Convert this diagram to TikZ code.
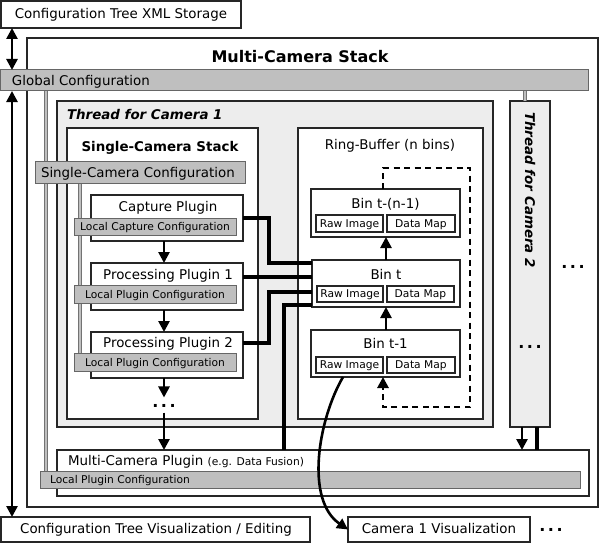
\documentclass[tikz,border=0pt]{standalone}
\usepackage{fontspec}
\setmainfont{DejaVu Sans}
\usetikzlibrary{arrows.meta,calc}
\pgfdeclarelayer{back}
\pgfdeclarelayer{bars}
\pgfsetlayers{back,bars,main}
\newcommand\fsmain{\fontsize{13.4}{16}\selectfont}
\newcommand\fssmall{\fontsize{10.7}{13}\selectfont}
\newcommand\fstitle{\fontsize{16}{19}\selectfont\bfseries}
\newcommand\bx[6][box]{\node[#1,anchor=north west,minimum width=#5pt,minimum height=#6pt] (#2) at (#3,#4) {};}
\begin{document}
\begin{tikzpicture}[x=1pt,y=-1pt,
  box/.style={draw=black!85,line width=1.2pt,fill=white,inner sep=0pt,outer sep=0pt},
  ibox/.style={box,line width=1.1pt},
  thr/.style={box,fill=black!7},
  cfg/.style={draw=black!60,line width=1pt,fill=gray!50,inner sep=0pt,outer sep=0pt},
  binbox/.style={box,line width=2.8pt},
  txt/.style={inner sep=0pt,outer sep=0pt,font=\fsmain},
  stxt/.style={txt,font=\fssmall},
  dots/.style={inner sep=0pt,outer sep=0pt,font=\fontsize{16}{19}\selectfont\bfseries},
  conn/.style={line width=3.8pt,black},
  arr/.style={line width=2.6pt,black,-{Triangle[length=11pt,width=11pt]}},
  dbl/.style={line width=2.6pt,black,{Triangle[length=11pt,width=11pt]}-{Triangle[length=11pt,width=11pt]}},
  gbar/.style={draw=black!55,line width=0.8pt,double=gray!50,double distance=1.6pt},
  dashloop/.style={line width=2.8pt,black,dash pattern=on 6pt off 4.5pt,-{Triangle[length=11pt,width=11pt]}}
]
\useasboundingbox (0,0) rectangle (600,543);

\begin{pgfonlayer}{back}
\bx{xml}{1}{1}{240}{27}
\bx{stack}{27}{38}{571}{469}
\bx[cfg]{glob}{0}{70}{588}{21}
\bx[thr]{th1}{57}{101}{436}{326}
\bx[thr]{th2}{510}{101}{40}{326}
\bx{single}{67}{128}{191}{291}
\bx{ring}{298}{128}{185}{291}
\end{pgfonlayer}

% titles
\node[txt,anchor=base] (xmlt) at (121,19) {Configuration Tree XML Storage};
\node[txt,anchor=base,font=\fstitle] (stackt) at (300,63) {Multi-Camera Stack};
\node[txt,anchor=base west] (globt) at (12,85) {Global Configuration};
\node[txt,anchor=base west,font=\fsmain\bfseries\itshape] (th1t) at (67,119) {Thread for Camera 1};
\node[txt,rotate=-90,font=\fsmain\bfseries\itshape] (th2t) at (530,190) {Thread for Camera 2};
\node[txt,anchor=base,font=\fsmain\bfseries] (singlet) at (160,151) {Single-Camera Stack};

% single camera stack
\bx[cfg]{scfg}{35}{161}{210}{22}
\node[txt,anchor=base west] (scfgt) at (41,177) {Single-Camera Configuration};
\bx{cap}{91}{195}{152}{46}
\node[txt,anchor=base] (capt) at (168,211) {Capture Plugin};
\bx[cfg]{lcc}{74}{218}{162}{17}
\node[stxt,anchor=base] (lcct) at (155,230) {Local Capture Configuration};
\bx{p1}{91}{263}{152}{47}
\node[txt,anchor=base] (p1t) at (168,279) {Processing Plugin 1};
\bx[cfg]{lpc1}{74}{285}{162}{18}
\node[stxt,anchor=base] (lpc1t) at (155,298) {Local Plugin Configuration};
\bx{p2}{91}{332}{152}{46}
\node[txt,anchor=base] (p2t) at (168,347) {Processing Plugin 2};
\bx[cfg]{lpc2}{74}{353}{162}{18}
\node[stxt,anchor=base] (lpc2t) at (155,366) {Local Plugin Configuration};
\node[dots] (dd1) at (164,406) {.\kern2.5pt.\kern2.5pt.};

% ring buffer
\node[txt,anchor=base] (ringt) at (390,149) {Ring-Buffer (n bins)};
\bx{binA}{311}{189}{149}{48}
\node[txt,anchor=base] (binAt) at (385.5,208) {Bin t-(n-1)};
\bx[ibox]{rawA}{316}{215}{67}{17}
\node[stxt,anchor=base] (rawAt) at (349.5,227) {Raw Image};
\bx[ibox]{mapA}{387}{215}{68}{17}
\node[stxt,anchor=base] (mapAt) at (421,227) {Data Map};
\bx[binbox]{binT}{312}{260}{148}{47}
\node[txt,anchor=base] (binTt) at (386,279) {Bin t};
\bx[ibox]{rawT}{317}{286}{66}{16}
\node[stxt,anchor=base] (rawTt) at (350,297) {Raw Image};
\bx[ibox]{mapT}{387}{286}{67}{16}
\node[stxt,anchor=base] (mapTt) at (420.5,297) {Data Map};
\bx{binB}{311}{330}{149}{47}
\node[txt,anchor=base] (binBt) at (385.5,348) {Bin t-1};
\bx[ibox]{rawB}{316}{357}{67}{16}
\node[stxt,anchor=base] (rawBt) at (349.5,368) {Raw Image};
\bx[ibox]{mapB}{387}{357}{68}{16}
\node[stxt,anchor=base] (mapBt) at (421,368) {Data Map};

% thread 2 and dots
\node[dots] (dd2) at (530,347) {.\kern2.5pt.\kern2.5pt.};
\node[dots] (dd3) at (573,267) {.\kern2.5pt.\kern2.5pt.};

% multi-camera plugin
\bx{mcp}{57}{450}{532}{46}
\node[txt,anchor=base west] (mcpt) at (68,465) {Multi-Camera Plugin {\fssmall (e.g. Data Fusion)}};
\bx[cfg]{mlpc}{40}{471}{540}{17}
\node[stxt,anchor=base west] (mlpct) at (50,483) {Local Plugin Configuration};

% bottom boxes
\bx{viz}{1}{517}{309}{25}
\node[txt,anchor=base] (vizt) at (156,533) {Configuration Tree Visualization / Editing};
\bx{cam}{348}{517}{182}{25}
\node[txt,anchor=base] (camt) at (439,533) {Camera 1 Visualization};
\node[dots] (dd4) at (551,530) {.\kern2.5pt.\kern2.5pt.};

% coordinates
\coordinate (xL) at (12,0);
\coordinate (xa) at (269,0);
\coordinate (xb) at (284,0);
\coordinate (xp) at (164,0);
\coordinate (xr) at (386,0);
\coordinate (xd) at (383,0);
\coordinate (xe) at (470,0);
\coordinate (xt) at (522,0);
\coordinate (xu) at (537,0);
\coordinate (cs) at (343,377);

% config arrows
\draw[dbl] (xml.south -| xL) -- (glob.north -| xL);
\draw[dbl] (glob.south -| xL) -- (viz.north -| xL);

% plugin chain
\draw[arr] (cap.south -| xp) -- (p1.north -| xp);
\draw[arr] (p1.south -| xp) -- (p2.north -| xp);
\draw[arr,shorten >=7pt] (p2.south -| xp) -- (dd1.north);
\draw[arr,shorten <=5pt] (dd1.south) -- (mcp.north -| xp);

% data connections
\draw[conn] (cap.east) -| (xa |- 0,263) -- (binT.west |- 0,263);
\draw[conn] (p1.east |- 0,277) -- (binT.west |- 0,277);
\draw[conn] (p2.east |- 0,343) -| (xa |- 0,292) -- (binT.west |- 0,292);
\draw[conn] (binT.west |- 0,305) -| (mcp.north -| xb);

% ring buffer arrows
\draw[arr] (binB.north -| xr) -- (binT.south -| xr);
\draw[arr] (binT.north -| xr) -- (binA.south -| xr);
\draw[dashloop] (binA.north -| xd) -- (xd |- 0,168) -| (xe |- 0,407) -| (binB.south -| xd);

% thread 2 to multi-camera plugin
\draw[arr] (th2.south -| xt) -- (mcp.north -| xt);
\draw[conn] (th2.south -| xu) -- (mcp.north -| xu);

% visualization curve
\draw[arr] (cs) .. controls (318,420) and (305,500) .. (cam.west);

% gray configuration bars
\begin{pgfonlayer}{bars}
\draw[gbar] (glob.south -| 46,0) -- (mlpc.north -| 46,0);
\draw[gbar] (scfg.south -| 80,0) -- (lpc2.north -| 80,0);
\draw[gbar] (glob.south -| 525,0) -- (th2.north -| 525,0);
\end{pgfonlayer}
\end{tikzpicture}
\end{document}
